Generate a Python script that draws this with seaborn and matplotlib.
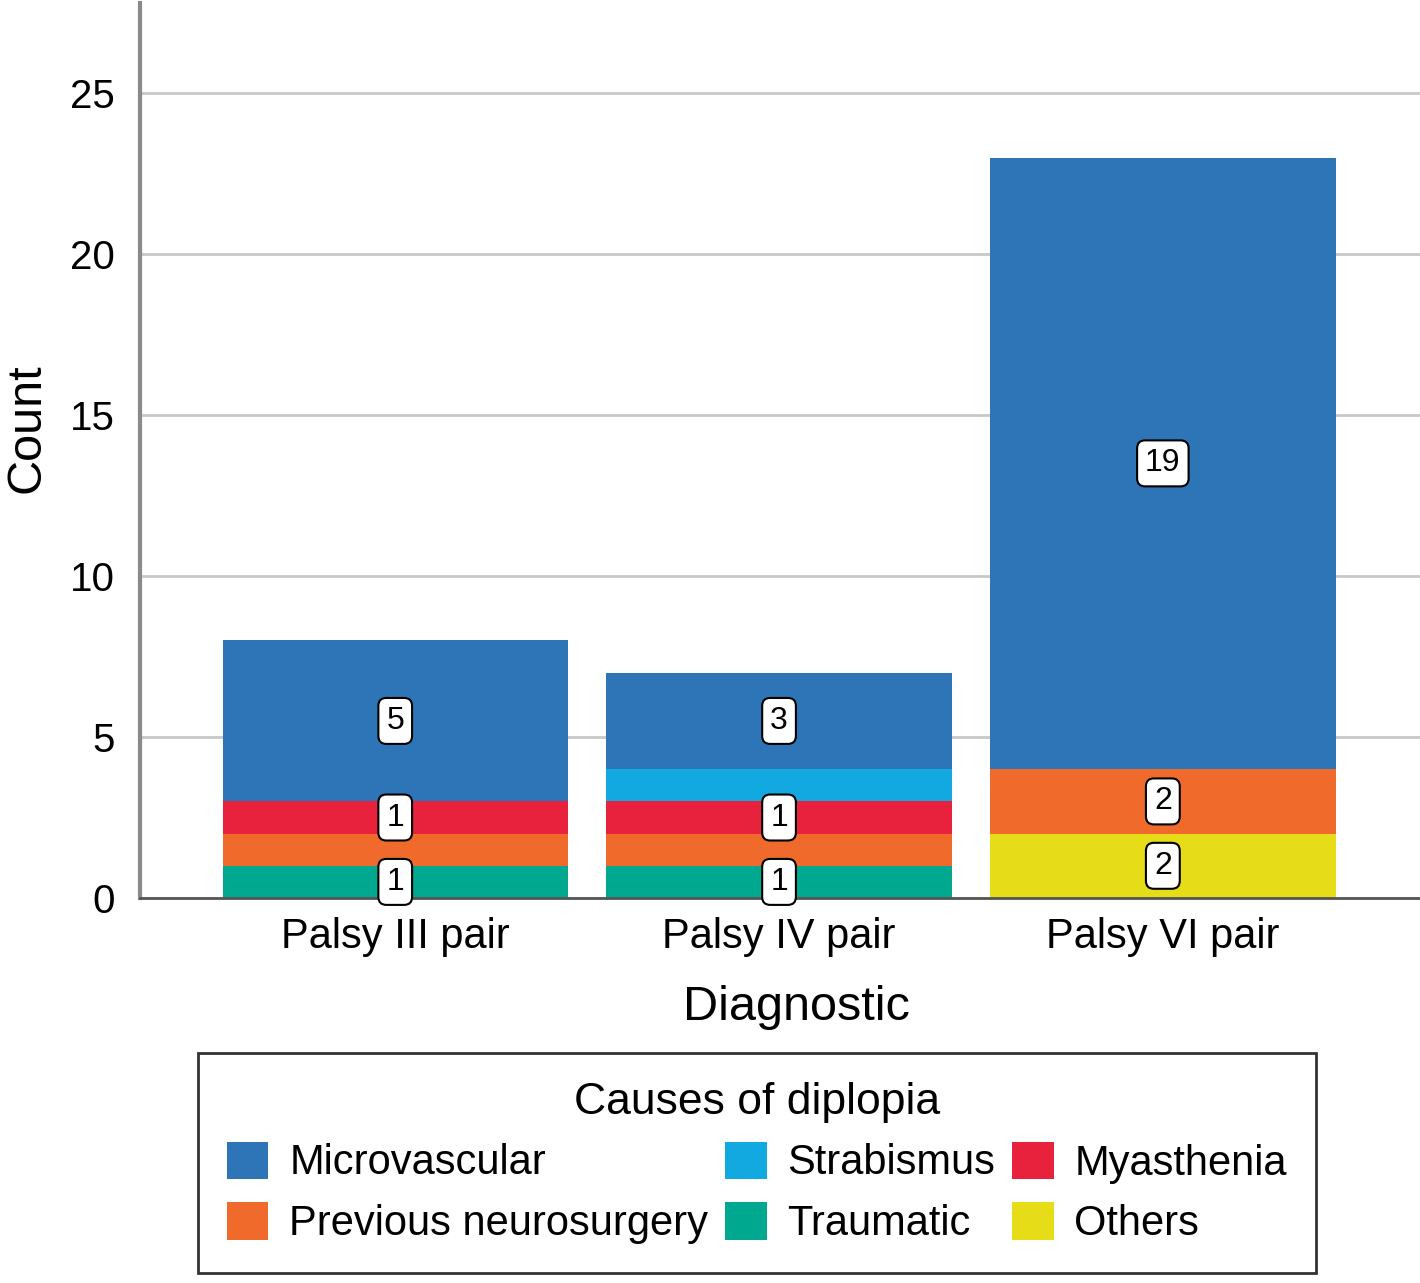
import numpy as np
import pandas as pd
import seaborn as sns
import matplotlib.pyplot as plt
from matplotlib.patches import Patch

# --- data ---
diagnostics = ['Palsy III pair', 'Palsy IV pair', 'Palsy VI pair']
# stacking order, bottom -> top
causes = ['Others', 'Traumatic', 'Previous neurosurgery', 'Myasthenia', 'Strabismus', 'Microvascular']
others = [0, 0, 2]
traumatic = [1, 1, 0]
prev_neuro = [1, 1, 2]
myasthenia = [1, 1, 0]
strabismus = [0, 1, 0]
microvascular = [5, 3, 19]
# which segments carry a value label in the original
show_label = {
    'Others': [False, False, True],
    'Traumatic': [True, True, False],
    'Previous neurosurgery': [False, False, True],
    'Myasthenia': [True, True, False],
    'Strabismus': [False, False, False],
    'Microvascular': [True, True, True],
}
colors = {
    'Microvascular': '#2E75B7',
    'Strabismus': '#12A8E0',
    'Myasthenia': '#E8223D',
    'Previous neurosurgery': '#F06A2C',
    'Traumatic': '#00A890',
    'Others': '#E6DD18',
}

df = pd.DataFrame({'Diagnostic': diagnostics, 'Others': others, 'Traumatic': traumatic,
                   'Previous neurosurgery': prev_neuro, 'Myasthenia': myasthenia,
                   'Strabismus': strabismus, 'Microvascular': microvascular})
cum = df[causes].cumsum(axis=1)

sns.set_style('white')
plt.rcParams['font.family'] = ['Liberation Sans', 'DejaVu Sans']
for k in ['text.color', 'axes.labelcolor', 'xtick.color', 'ytick.color']:
    plt.rcParams[k] = 'black'

fig = plt.figure(figsize=(14.2, 12.83), dpi=100)
ax = fig.add_axes([140 / 1420, 1 - 898 / 1283, 1280 / 1420, 895 / 1283])

ax.set_axisbelow(True)
ax.yaxis.grid(True, color='#c8c8c8', linewidth=2)

# stacked bars: draw cumulative totals from the top layer down
for cause in causes[::-1]:
    sns.barplot(x=df['Diagnostic'], y=cum[cause], color=colors[cause], width=0.9,
                saturation=1, linewidth=0, ax=ax)

# value labels in white boxes
for cause in causes:
    lo = cum[cause] - df[cause]
    for i in range(len(diagnostics)):
        if show_label[cause][i] and df[cause][i] > 0:
            ax.text(i, lo[i] + df[cause][i] / 2, str(df[cause][i]), ha='center', va='center',
                    fontsize=23, color='black',
                    bbox=dict(boxstyle='round,pad=0.25', fc='white', ec='black', lw=1.5))

ax.set_xlim(-0.665, 2.67)
ax.set_ylim(0, 27.8)
ax.set_yticks([0, 5, 10, 15, 20, 25])
ax.tick_params(axis='y', labelsize=29, length=0, pad=18)
ax.tick_params(axis='x', labelsize=30, length=0, pad=14)

for s in ['top', 'right']:
    ax.spines[s].set_visible(False)
ax.spines['left'].set_color('#8a8a8a')
ax.spines['left'].set_linewidth(3)
ax.spines['bottom'].set_color('#555555')
ax.spines['bottom'].set_linewidth(2)

ax.set_ylabel('Count', fontsize=35, va='center')
ax.yaxis.set_label_coords(-0.088, 0.525)
ax.set_xlabel('Diagnostic', fontsize=35, va='center')
ax.xaxis.set_label_coords(0.513, -0.122)

# legend filled column-wise: 3 columns, 2 rows
legend_order = ['Microvascular', 'Previous neurosurgery', 'Strabismus', 'Traumatic', 'Myasthenia', 'Others']
handles = [Patch(facecolor=colors[c], edgecolor='none', label=c) for c in legend_order]
leg = fig.legend(handles=handles, loc='center', bbox_to_anchor=(0.533, 1 - 1163 / 1283), ncol=3,
                 title='Causes of diplopia', fontsize=30, title_fontsize=32, frameon=True,
                 fancybox=False, edgecolor='black', handlelength=1.0, handleheight=1.0,
                 handletextpad=0.5, columnspacing=0.4, labelspacing=0.45, borderpad=0.7,
                 borderaxespad=0)
leg.get_frame().set_linewidth(2)

fig.savefig('out.png', dpi=100)
